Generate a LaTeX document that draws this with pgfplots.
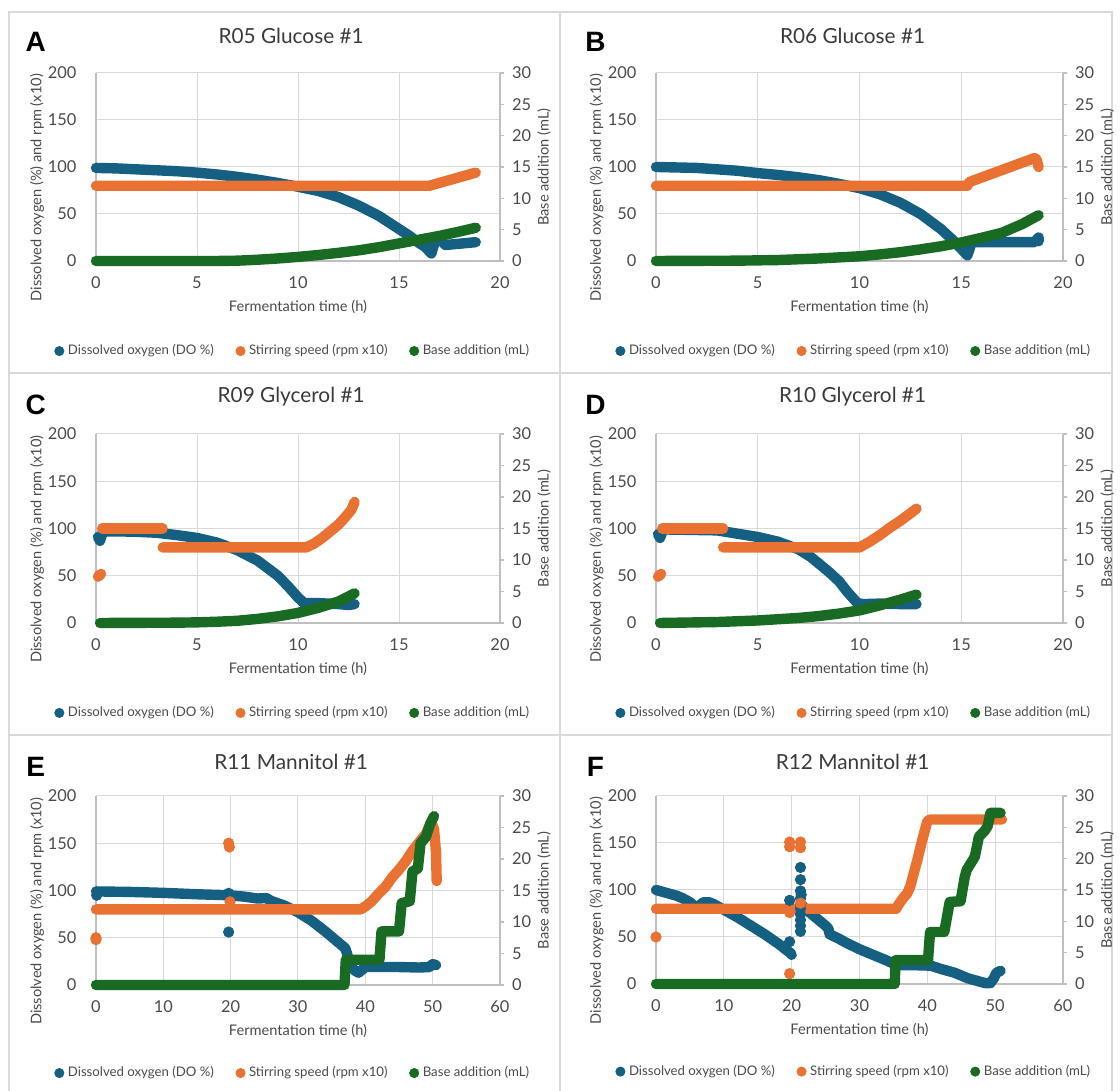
\documentclass[border=0pt]{standalone}
\usepackage{fontspec}
\setmainfont{Lato}
\newfontfamily\letterfont{Liberation Sans}
\usepackage{pgfplots}
\pgfplotsset{compat=1.18}

\definecolor{doc}{HTML}{156082}
\definecolor{rpmc}{HTML}{E97132}
\definecolor{basec}{HTML}{196B24}
\definecolor{gridc}{HTML}{D9D9D9}
\definecolor{axc}{HTML}{BFBFBF}
\definecolor{labc}{HTML}{4A4A4A}
\definecolor{titc}{HTML}{3A3A3A}
\definecolor{framec}{HTML}{D9D9D9}

\newcommand\ticksize{\fontsize{8.2}{10}\selectfont}
\newcommand\labsize{\fontsize{7.3}{9}\selectfont}
\newcommand\titsize{\fontsize{10.4}{12}\selectfont}
\newcommand\legsize{\fontsize{6.6}{8}\selectfont}

\tikzset{letter/.style={font=\letterfont\bfseries\fontsize{14}{14}\selectfont, text=black, anchor=center}}

\pgfplotsset{
  series/.style={forget plot, line width=5.2pt, line cap=round, line join=round, mark=none},
  dots/.style={forget plot, only marks, mark=*, mark size=2.6pt, mark options={draw=none}},
  dotleg/.style={only marks, mark=*, mark size=2.3pt, mark options={draw=none},
    legend image code/.code={\draw[##1] plot coordinates {(0pt,0pt)};}},
  leftax/.style={
    scale only axis, anchor=south west, width=202pt, height=94pt,
    xmin=0, ymin=0, ymax=200, ytick={0,50,100,150,200},
    axis x line*=bottom, axis y line*=left,
    axis line style={draw=axc, line width=0.6pt},
    grid=major, major grid style={draw=gridc, line width=0.5pt},
    major tick length=0pt, tick style={draw=none},
    clip=false,
    tick label style={font=\ticksize, text=labc},
    /pgf/number format/assume math mode=true,
    xticklabel style={yshift=-4.3pt},
    yticklabel style={xshift=-6.3pt},
    every axis x label/.style={at={(axis description cs:0.5,-0.245)}, anchor=center, font=\labsize, text=labc},
    every axis y label/.style={at={(axis description cs:-0.146,0.39)}, rotate=90, anchor=center, font=\labsize, text=labc},
    every axis title/.style={at={(axis description cs:0.483,1.197)}, anchor=center, font=\titsize, text=titc},
    xlabel={Fermentation time (h)},
    ylabel={Dissolved oxygen (\%) and rpm (x10)},
    legend columns=3,
    legend style={draw=none, fill=none, font=\legsize, text=labc, anchor=center, inner sep=0pt,
      /tikz/every even column/.append style={column sep=9pt}},
    legend cell align=left,
  },
  rightax/.style={
    scale only axis, anchor=south west, width=202pt, height=94pt,
    xmin=0, ymin=0, ymax=30, ytick={0,5,10,15,20,25,30},
    axis y line*=right, axis x line=none,
    axis line style={draw=axc, line width=0.6pt},
    ytick style={draw=axc, line width=0.6pt}, major tick length=2pt, tick align=outside,
    clip=false,
    tick label style={font=\ticksize, text=labc},
    /pgf/number format/assume math mode=true,
    yticklabel style={xshift=0.5pt},
    every axis y label/.style={at={(axis description cs:1.109,0.5)}, rotate=90, anchor=center, font=\labsize, text=labc},
    ylabel={Base addition (mL)},
  },
}

\newcommand\legendentries{%
  \addlegendimage{dotleg, doc}\addlegendentry{Dissolved oxygen (DO \%)}
  \addlegendimage{dotleg, rpmc}\addlegendentry{Stirring speed (rpm x10)}
  \addlegendimage{dotleg, basec}\addlegendentry{Base addition (mL)}
}

\begin{document}
\begin{tikzpicture}
\useasboundingbox (0,0) rectangle (560pt,545.5pt);
% panel frames
\draw[framec, line width=0.7pt] (4.5pt,0) -- (4.5pt,539.5pt) -- (556pt,539.5pt) -- (556pt,0);
\draw[framec, line width=0.7pt] (280pt,0) -- (280pt,539.5pt);
\draw[framec, line width=0.7pt] (4.5pt,359pt) -- (556pt,359pt);
\draw[framec, line width=0.7pt] (4.5pt,178pt) -- (556pt,178pt);

% ---------------- A: R05 Glucose #1
\begin{axis}[leftax, at={(48pt,415pt)}, xmax=20, xtick={0,5,10,15,20},
  title={R05 Glucose \#1}, legend style={at={(axis description cs:0.49,-0.479)}}]
\addplot[series, doc] coordinates {(0,99)(1,98.5)(2,97.5)(3,96.5)(4,95.5)(5,94)(6,92)(7,89.5)(8,86.5)(9,83)(10,79)(11,74.5)(12,68)(13,59)(14,48)(15,34)(15.5,27)(16,19)(16.3,15)(16.6,8)(16.8,22)(17,24)(17.3,17)(17.8,18)(18.3,19)(18.8,20)};
\addplot[series, rpmc] coordinates {(0,80)(16.5,80)(18.8,94)};
\legendentries
\node[letter] at (axis description cs:-0.149,1.165) {A};
\end{axis}
\begin{axis}[rightax, at={(48pt,415pt)}, xmax=20]
\addplot[series, basec] coordinates {(0,0)(6,0)(7,0.05)(8,0.2)(9,0.4)(10,0.65)(11,0.95)(12,1.3)(13,1.7)(14,2.2)(15,2.8)(16,3.4)(17,4.0)(18,4.7)(18.8,5.3)};
\end{axis}

% ---------------- B: R06 Glucose #1
\begin{axis}[leftax, at={(328pt,415pt)}, width=203.5pt, xmax=20, xtick={0,5,10,15,20},
  title={R06 Glucose \#1}, legend style={at={(axis description cs:0.489,-0.479)}}]
\addplot[series, doc] coordinates {(0,100)(1,99.5)(2,99)(3,97.5)(4,96)(5,93.5)(6,91.5)(7,89)(8,86)(9,82)(10,77.5)(11,71)(12,62)(13,50)(14,34)(14.6,22)(15,13)(15.3,6)(15.4,12)(15.5,20)(16,20)(17,20)(18,20)(18.6,20)(18.8,25)(18.8,21)};
\addplot[series, rpmc] coordinates {(0,80)(15.3,80)(15.4,84)(18.6,109.5)(18.7,108)(18.8,100)};
\legendentries
\node[letter] at (axis description cs:-0.149,1.165) {B};
\end{axis}
\begin{axis}[rightax, at={(328pt,415pt)}, width=203.5pt, xmax=20]
\addplot[series, basec] coordinates {(0,0)(4,0.05)(6,0.15)(8,0.4)(10,0.75)(11,1.05)(12,1.4)(13,1.85)(14,2.35)(15,2.95)(16,3.7)(17,4.5)(18,5.9)(18.8,7.3)};
\end{axis}

% ---------------- C: R09 Glycerol #1
\begin{axis}[leftax, at={(48pt,234pt)}, height=94.5pt, xmax=20, xtick={0,5,10,15,20},
  title={R09 Glycerol \#1}, legend style={at={(axis description cs:0.49,-0.476)}}]
\addplot[series, doc] coordinates {(0.1,91)(0.2,87)(0.35,97)(1,97)(2,96.5)(3,95.5)(4,93)(5,90)(6,85)(7,77)(8,66)(9,50)(9.5,39)(10,27)(10.3,21)(11,21)(12,20)(12.5,19)(12.8,20)};
\addplot[series, rpmc] coordinates {(0.1,49)(0.25,52)};
\addplot[series, rpmc] coordinates {(0.3,100)(3.3,100)};
\addplot[series, rpmc] coordinates {(3.3,80)(10.4,80)(10.8,84)(11.2,90)(11.6,97)(12,104)(12.3,111)(12.5,116)(12.65,120)(12.8,128)};
\legendentries
\node[letter] at (axis description cs:-0.149,1.153) {C};
\end{axis}
\begin{axis}[rightax, at={(48pt,234pt)}, height=94.5pt, xmax=20]
\addplot[series, basec] coordinates {(0.2,0)(4,0.05)(5,0.1)(6,0.2)(7,0.35)(8,0.65)(9,1.05)(10,1.6)(11,2.4)(12,3.4)(12.8,4.7)};
\end{axis}

% ---------------- D: R10 Glycerol #1
\begin{axis}[leftax, at={(328pt,234pt)}, width=203.5pt, height=94.5pt, xmax=20, xtick={0,5,10,15,20},
  title={R10 Glycerol \#1}, legend style={at={(axis description cs:0.489,-0.476)}}]
\addplot[series, doc] coordinates {(0.1,94)(0.2,90)(0.35,99)(3,98)(4,94.5)(5,91)(6,86)(7,78)(7.6,70)(8.5,54)(9,44)(9.4,33)(9.9,21)(10.2,20)(11,20.5)(12,20)(12.8,20)};
\addplot[series, rpmc] coordinates {(0.1,49)(0.25,52)};
\addplot[series, rpmc] coordinates {(0.3,100)(3.3,100)};
\addplot[series, rpmc] coordinates {(3.3,80)(10,80)(10.5,86)(11,93)(11.5,101)(12,108)(12.5,116)(12.8,121)};
\legendentries
\node[letter] at (axis description cs:-0.149,1.153) {D};
\end{axis}
\begin{axis}[rightax, at={(328pt,234pt)}, width=203.5pt, height=94.5pt, xmax=20]
\addplot[series, basec] coordinates {(0.2,0)(3,0.15)(5,0.4)(7,0.8)(8,1.1)(9,1.5)(10,2.0)(11,2.8)(12,3.7)(12.8,4.5)};
\end{axis}

% ---------------- E: R11 Mannitol #1
\begin{axis}[leftax, at={(48pt,53pt)}, height=94.5pt, xmax=60, xtick={0,10,20,30,40,50,60},
  title={R11 Mannitol \#1}, every axis title/.append style={at={(axis description cs:0.483,1.18)}},
  legend style={at={(axis description cs:0.49,-0.466)}}]
\addplot[series, doc] coordinates {(0,99)(5,98.5)(10,97.5)(15,96)(19.7,95)(22,93.5)(24,91.5)(25.3,92)(26,89)(28,84)(30,77)(32,68)(34,57)(36,45)(37,39)(37.3,33)(37.6,22)(38.5,15)(39,13)(39.5,16)(40,19)(45,19)(48,18.5)(49.5,19)(50,22)(50.5,21)};
\addplot[dots, doc] coordinates {(0.1,95)(19.7,97)(19.7,56)};
\addplot[series, rpmc] coordinates {(0,80)(39.3,80)(40,83)(41,89)(42,97)(43,104)(44,114)(45,122)(46,131)(47,142)(48,151)(49,160)(49.8,172)(50.2,165)(50.5,140)(50.6,110)};
\addplot[dots, rpmc] coordinates {(0,50)(0,48)(19.7,150)(19.8,146)(19.9,84)(19.9,88)};
\legendentries
\node[letter] at (axis description cs:-0.149,1.153) {E};
\end{axis}
\begin{axis}[rightax, at={(48pt,53pt)}, height=94.5pt, xmax=60]
\addplot[series, basec] coordinates {(0,0)(36.9,0)(37.1,4)(42.1,4)(42.4,8.5)(45,8.5)(45.4,13)(46.6,13.3)(47,18)(47.8,18.5)(48.2,22.5)(49,23.5)(49.6,25.5)(50.2,26.8)};
\end{axis}

% ---------------- F: R12 Mannitol #1
\begin{axis}[leftax, at={(328pt,53.5pt)}, width=203.5pt, xmax=60, xtick={0,10,20,30,40,50,60},
  title={R12 Mannitol \#1}, every axis title/.append style={at={(axis description cs:0.483,1.18)}},
  legend style={at={(axis description cs:0.489,-0.466)}}]
\addplot[series, doc] coordinates {(0,100)(1,98)(2,96)(3,94)(4,91)(5,87)(5.8,82)(6.5,84)(7,87)(7.8,87)(8.5,85)(10,79)(12,71)(14,62)(16,53)(18,43)(19.8,33)(20,31)};
\addplot[series, doc] coordinates {(21.5,84)(22,80)(23,74)(24,68)(25,62)(25.4,59)(25.6,53)(27,48)(28,44)(30,37)(32,31)(34,25)(35.5,20)(38,20)(40.5,19.5)(42,16)(44,12)(46,6)(47.5,3)(48.5,1)(49.3,1)(49.8,6)(50.2,12)(50.8,14)};
\addplot[dots, doc] coordinates {(19.7,45)(19.7,89)(21.3,124)(21.3,111)(21.3,99)(21.4,95)(21.3,91)(21.3,85)(21.3,80)(21.3,74)(21.3,68)(21.3,62)(21.3,56)};
\addplot[series, rpmc] coordinates {(0,80)(35.4,80)(35.8,85)(36.5,92)(37,96)(37.5,104)(38,118)(38.5,131)(39,146)(39.5,160)(40,173)(40.4,175)(51,175)};
\addplot[dots, rpmc] coordinates {(0,50)(19.7,151)(19.7,146)(19.7,76)(19.7,11)(21.3,151)(21.3,145)(21.3,86)};
\legendentries
\node[letter] at (axis description cs:-0.149,1.153) {F};
\end{axis}
\begin{axis}[rightax, at={(328pt,53.5pt)}, width=203.5pt, xmax=60]
\addplot[series, basec] coordinates {(0,0)(35.2,0)(35.3,3.8)(40.1,3.8)(40.4,8.3)(42.5,8.3)(43.3,13.1)(44.9,13.2)(45.5,17)(45.8,18.2)(47,20.3)(47.6,23.5)(48.5,24.5)(48.9,25.2)(49.3,27.3)(50.8,27.3)};
\end{axis}
\end{tikzpicture}
\end{document}
